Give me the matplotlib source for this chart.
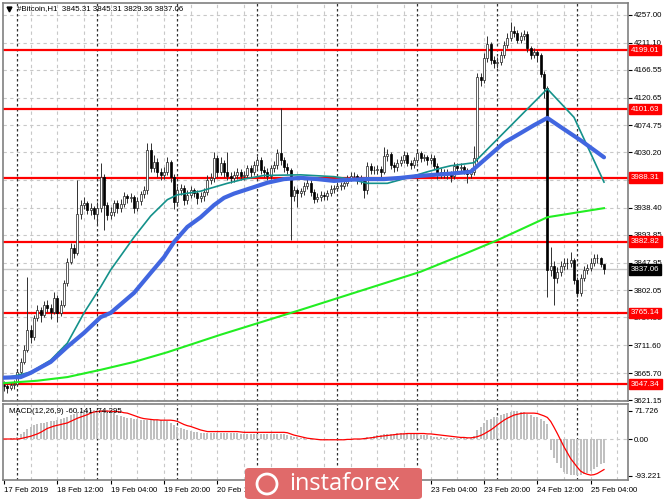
import numpy as np
import matplotlib
matplotlib.use("Agg")
import matplotlib.pyplot as plt
from matplotlib.patches import FancyBboxPatch, Ellipse
import matplotlib.transforms as mtrans

plt.rcParams['font.family'] = ['Liberation Sans', 'DejaVu Sans']

# ---- data ----
first_open = 3646.0
closes = [3644, 3641, 3646, 3647, 3667, 3684, 3704, 3737, 3725, 3757,
          3770, 3762, 3778, 3773, 3767, 3790, 3765, 3778, 3814, 3849,
          3872, 3864, 3928, 3943, 3946, 3935, 3938, 3928, 3938, 3989,
          3943, 3927, 3932, 3946, 3938, 3945, 3958, 3954, 3956, 3938,
          3950, 3961, 3968, 4034, 4004, 4014, 3998, 3993, 3998, 4014,
          3989, 3948, 3968, 3971, 3951, 3960, 3968, 3963, 3954, 3958,
          3965, 3985, 3988, 4021, 3998, 4013, 3998, 3991, 3988, 3993,
          3998, 3991, 3993, 4004, 3998, 4009, 4017, 4001, 3998, 3991,
          4004, 4009, 4029, 4017, 4006, 4001, 3958, 3968, 3963, 3966,
          3975, 3980, 3965, 3953, 3956, 3960, 3958, 3963, 3970, 3971,
          3975, 3975, 3980, 3988, 3991, 3991, 3985, 3985, 3968, 4008,
          4001, 4001, 4002, 3998, 4024, 4027, 4009, 4006, 4013, 4017,
          4026, 4013, 4009, 4017, 4029, 4021, 4022, 4017, 4021, 4008,
          3993, 3998, 3996, 3995, 3991, 4008, 4004, 4006, 4001, 3995,
          3998, 4021, 4155, 4150, 4186, 4209, 4183, 4178, 4180, 4191,
          4207, 4219, 4231, 4227, 4216, 4222, 4226, 4202, 4191, 4196,
          4191, 4160, 4136, 3836, 3842, 3823, 3832, 3843, 3848, 3847,
          3852, 3819, 3798, 3823, 3836, 3839, 3848, 3855, 3855, 3845.31,
          3837.06]
highs = [3652, 3648, 3651, 3654, 3672, 3690, 3712, 3824, 3745, 3762,
         3778, 3775, 3785, 3786, 3780, 3800, 3794, 3786, 3820, 3855,
         3880, 3878, 3985, 3952, 3956, 3950, 3946, 3942, 3948, 4012,
         3995, 3948, 3940, 3952, 3951, 3953, 3964, 3962, 3963, 3960,
         3957, 3966, 3975, 4045, 4046, 4025, 4020, 4005, 4006, 4022,
         4018, 3994, 3975, 3978, 3976, 3968, 3975, 3972, 3968, 3965,
         3972, 3992, 3996, 4030, 4025, 4022, 4018, 4030, 3998, 4000,
         4005, 4003, 4000, 4010, 4010, 4016, 4024, 4022, 4008, 4004,
         4010, 4016, 4036, 4103, 4022, 4012, 4005, 3974, 3972, 3972,
         3981, 3987, 3984, 3970, 3963, 3966, 3965, 3968, 3976, 3977,
         3981, 3982, 3986, 3993, 3997, 3998, 3995, 3992, 3990, 4014,
         4013, 4008, 4009, 4007, 4039, 4035, 4030, 4014, 4019, 4024,
         4032, 4030, 4017, 4023, 4036, 4033, 4028, 4026, 4027, 4025,
         4012, 4004, 4003, 4002, 4000, 4014, 4012, 4012, 4010, 4005,
         4005, 4040, 4162, 4162, 4195, 4222, 4212, 4190, 4188, 4198,
         4214, 4228, 4246, 4238, 4232, 4229, 4233, 4230, 4206, 4203,
         4200, 4195, 4165, 4140, 3874, 3850, 3840, 3850, 3855, 3856,
         3866, 3856, 3824, 3830, 3842, 3846, 3855, 3862, 3863, 3858,
         3845.31]
lows = [3636, 3633, 3637, 3640, 3644, 3662, 3680, 3700, 3716, 3720,
        3752, 3750, 3758, 3766, 3755, 3763, 3750, 3760, 3774, 3810,
        3845, 3856, 3860, 3920, 3936, 3928, 3926, 3920, 3910, 3932,
        3902, 3918, 3920, 3925, 3930, 3932, 3940, 3946, 3948, 3930,
        3933, 3944, 3955, 3962, 3998, 3998, 3990, 3985, 3986, 3992,
        3982, 3936, 3942, 3960, 3944, 3945, 3955, 3956, 3945, 3948,
        3950, 3960, 3978, 3982, 3990, 3992, 3990, 3985, 3980, 3982,
        3986, 3984, 3985, 3988, 3990, 3992, 4002, 3995, 3990, 3984,
        3986, 3998, 4002, 4010, 3998, 3994, 3885, 3950, 3940, 3956,
        3960, 3970, 3958, 3946, 3948, 3950, 3951, 3952, 3958, 3963,
        3966, 3968, 3970, 3975, 3983, 3984, 3978, 3978, 3955, 3962,
        3995, 3994, 3995, 3990, 3994, 4016, 4002, 3998, 4000, 4008,
        4012, 4007, 4002, 4004, 4012, 4015, 4016, 4010, 4011, 4002,
        3986, 3987, 3988, 3986, 3982, 3986, 3998, 3998, 3994, 3980,
        3988, 3993, 4015, 4140, 4145, 4180, 4176, 4170, 4170, 4175,
        4186, 4202, 4214, 4220, 4210, 4210, 4216, 4196, 4184, 4186,
        4180, 4154, 4120, 3791, 3826, 3778, 3815, 3826, 3836, 3838,
        3840, 3812, 3791, 3793, 3818, 3830, 3834, 3843, 3848, 3840,
        3829.36]
opens = [first_open] + closes[:-1]

# moving averages, sampled at bar indices
ma_blue_bars = [0, 5, 8, 14, 19, 24, 29, 32, 39, 44, 48, 51, 55, 59, 63, 66, 69, 74,
                79, 84, 89, 94, 99, 104, 109, 114, 119, 124, 129, 134, 140, 145, 150,
                155, 159, 163, 167, 173, 180]
ma_blue = [3658, 3659, 3666, 3684, 3709, 3732, 3758, 3765, 3798, 3831, 3857, 3882,
           3907, 3923, 3943, 3955, 3962, 3971, 3980, 3986, 3988, 3986, 3983, 3985,
           3986, 3986, 3988, 3991, 3993, 3995, 3998, 4022, 4046, 4062, 4075, 4087,
           4072, 4050, 4022]
ma_teal_bars = [0, 8, 14, 19, 24, 29, 32, 39, 44, 49, 52, 59, 62, 67, 72, 78, 89, 99,
                104, 109, 115, 121, 127, 131, 134, 141, 163, 171, 180]
ma_teal = [3657, 3667, 3687, 3715, 3765, 3808, 3836, 3890, 3925, 3952, 3960, 3966,
           3971, 3979, 3986, 3992, 3993, 3990, 3986, 3979, 3979, 3988, 3998, 4004,
           4008, 4013, 4135, 4088, 3981]
ma_green_bars = [0, 10, 19, 29, 39, 49, 65, 89, 109, 125, 138, 148, 163, 180]
ma_green = [3649, 3653, 3659, 3671, 3684, 3700, 3729, 3770, 3805, 3833, 3862, 3885,
            3923, 3938]

levels = [4199.01, 4101.63, 3988.31, 3882.82, 3765.14, 3647.34]
last_price = 3837.06
price_ticks = [4257.00, 4211.10, 4166.55, 4120.65, 4074.75, 4030.20, 3984.30,
               3938.40, 3893.85, 3847.95, 3802.05, 3757.50, 3711.60, 3665.70, 3621.15]

macd_hist = [0, 1, 2, 3, 6, 12, 18, 25, 30, 35,
             38, 40, 42, 44, 45, 47, 49, 52, 54, 57,
             61, 64, 68, 71, 73, 74, 74, 74, 74, 74,
             74, 73, 71, 66, 61, 58, 56, 54, 53, 52,
             50, 49, 48, 48, 48, 48, 48, 48, 47, 46,
             42, 35, 31, 28, 26, 23, 20, 18, 17, 16,
             16, 16, 15, 15, 15, 15, 15, 15, 15, 15,
             15, 14, 14, 14, 14, 14, 14, 13, 13, 13,
             13, 13, 13, 13, 12, 10, 7, 5, 4, 3,
             2, 1, 0, -1, -2, -2, -2, -2, -2, -2,
             -2, -2, -1, -1, -1, 0, -1, 1, 2, 4,
             6, 8, 9, 10, 12, 13, 14, 14, 15, 15,
             15, 15, 14, 13, 12, 11, 10, 9, 8, 6,
             5, 4, 3, 2, 2, 2, 2, 2, 2, 2,
             3, 8, 22, 31, 40, 48, 52, 55, 57, 60,
             64, 67, 70, 71, 71, 70, 68, 65, 61, 57,
             55, 50, 45, 38, -28, -48, -62, -74, -83, -89,
             -92, -93, -93, -92, -90, -87, -82, -77, -71, -65,
             -60]
macd_signal = [0, 0, 0, 0, 0, 1, 3, 5, 7, 10,
               13, 17, 22, 27, 30, 33, 35, 37, 39, 41,
               45, 49, 53, 56, 59, 62, 66, 69, 70, 71,
               71, 71, 71, 70, 70, 69, 67, 66, 63, 60,
               57, 54, 52, 51, 50, 49, 49, 48, 48, 48,
               48, 47, 45, 41, 37, 34, 32, 29, 26, 23,
               21, 19, 19, 19, 19, 19, 19, 19, 19, 19,
               19, 18, 17, 17, 17, 17, 17, 17, 17, 17,
               17, 17, 17, 17, 17, 16, 13, 10, 8, 6,
               4, 2, 1, 0, -1, -2, -2, -2, -2, -2,
               -2, -2, -2, -1, -1, 0, 0, 0, 1, 2,
               3, 4, 6, 7, 8, 9, 10, 11, 12, 13,
               13, 14, 14, 14, 14, 14, 14, 13, 13, 12,
               11, 10, 9, 8, 7, 6, 5, 4, 4, 3,
               3, 4, 6, 9, 13, 18, 23, 29, 36, 42,
               48, 53, 57, 61, 63, 65, 66, 66, 66, 66,
               65, 62, 59, 55, 45, 30, 14, -3, -20, -35,
               -50, -61, -72, -82, -87, -90, -92, -91, -88, -83,
               -78]
macd_ticks = [71.726, 0.0, -93.221]
macd_tick_labels = ['71.726', '0.00', '-93.221']

# labels hidden behind the watermark in the original are left empty
date_bars = [0, 16, 32, 48, 64, 80, 96, 112, 128, 144, 160, 176]
date_labels = ['17 Feb 2019', '18 Feb 12:00', '19 Feb 04:00', '19 Feb 20:00',
               '20 Feb 12:00', '', '', '',
               '23 Feb 04:00', '23 Feb 20:00', '24 Feb 12:00', '25 Feb 04:00']
day_bars = [4, 28, 52, 76, 100, 124, 148, 172]

FS = 5.7
W, H = 665, 499

fig = plt.figure(figsize=(W / 100, H / 100), dpi=100)
fig.patch.set_facecolor('white')
ax = fig.add_axes([3 / W, (H - 401) / H, 625 / W, 398 / H])
ax2 = fig.add_axes([3 / W, (H - 480) / H, 625 / W, 76 / H])

xlim = (-0.3, 187.2)
for a in (ax, ax2):
    a.set_xlim(*xlim)
    for s in a.spines.values():
        s.set_color('#808080')
        s.set_linewidth(1.2)
    # grid every 8 bars, dotted day separators
    for b in range(8, 188, 8):
        a.axvline(b, color='#c8c8c8', lw=0.8, ls=(0, (3, 3)), zorder=0)
    for b in day_bars:
        a.axvline(b, color='#303030', lw=0.9, ls=(0, (2, 2)), zorder=0.5)

# ---- main price panel ----
ax.set_ylim(3619.5, 4276.8)
for p in price_ticks:
    ax.axhline(p, color='#c8c8c8', lw=0.8, ls=(0, (3, 3)), zorder=0)

ax.axhline(last_price, color='#c8c8c8', lw=1.0, zorder=0.8)
for lv in levels:
    ax.axhline(lv, color='#ff0000', lw=1.6, zorder=1)

bars = np.arange(len(closes))
o = np.array(opens, dtype=float)
c = np.array(closes, dtype=float)
ax.vlines(bars, lows, highs, color='#303030', lw=0.7, zorder=2)
bull = c >= o
body_lo = np.minimum(o, c)
body_h = np.maximum(np.abs(c - o), 0.8)
ax.bar(bars[bull], body_h[bull], bottom=body_lo[bull], width=0.62,
       facecolor='white', edgecolor='#202020', linewidth=0.5, zorder=2.2)
ax.bar(bars[~bull], body_h[~bull], bottom=body_lo[~bull], width=0.62,
       facecolor='black', edgecolor='black', linewidth=0.5, zorder=2.2)

ax.plot(ma_green_bars, ma_green, color='#22ee22', lw=1.5, zorder=3)
ax.plot(ma_teal_bars, ma_teal, color='#14918a', lw=1.2, zorder=3)
ax.plot(ma_blue_bars, ma_blue, color='#4166e0', lw=3.0, zorder=3.1,
        solid_capstyle='round')

ax.yaxis.tick_right()
ax.set_yticks(price_ticks)
ax.set_yticklabels(['%.2f' % p for p in price_ticks])
ax.tick_params(axis='y', labelsize=FS, length=3, width=0.8, pad=1.5, colors='black')
ax.set_xticks([])

trans = mtrans.blended_transform_factory(ax.transAxes, ax.transData)
for lv in levels:
    ax.text(1.005, lv, '%.2f' % lv, transform=trans, fontsize=FS, color='white',
            ha='left', va='center', clip_on=False, zorder=5,
            bbox=dict(boxstyle='square,pad=0.22', facecolor='#ff0000', edgecolor='#ff0000'))
ax.text(1.005, last_price, '%.2f' % last_price, transform=trans, fontsize=FS,
        color='white', ha='left', va='center', clip_on=False, zorder=5,
        bbox=dict(boxstyle='square,pad=0.22', facecolor='black', edgecolor='black'))

ax.plot([6 / 625], [1 - 6 / 398], marker='v', color='black', ms=3.5,
        transform=ax.transAxes, clip_on=False)
ax.text(14 / 625, 1 - 6 / 398, '#Bitcoin,H1  3845.31 3845.31 3829.36 3837.06',
        transform=ax.transAxes, fontsize=FS, ha='left', va='center')

# ---- MACD panel ----
ax2.set_ylim(-104.6, 89.3)
ax2.axhline(0, color='#c8c8c8', lw=0.8, ls=(0, (3, 3)), zorder=0)
ax2.bar(bars, macd_hist, width=0.55, color='#c0c0c0', zorder=2)
ax2.plot(bars, macd_signal, color='#ff0000', lw=0.9, zorder=3)
ax2.yaxis.tick_right()
ax2.set_yticks(macd_ticks)
ax2.set_yticklabels(macd_tick_labels)
ax2.tick_params(axis='y', labelsize=FS, length=3, width=0.8, pad=1.5)
ax2.set_xticks(date_bars)
ax2.set_xticklabels(date_labels)
ax2.tick_params(axis='x', labelsize=FS, length=3, width=0.8, pad=2)
for lbl in ax2.get_xticklabels():
    lbl.set_horizontalalignment('left')
ax2.text(6 / 625, 0.9, 'MACD(12,26,9) -60.141 -74.295', transform=ax2.transAxes,
         fontsize=FS, ha='left', va='center')

# ---- watermark ----
fig.patches.append(FancyBboxPatch((245 / W, 0), 177 / W, 31 / H,
                                  boxstyle='round,pad=0,rounding_size=0.006',
                                  transform=fig.transFigure, facecolor='#e06a6a',
                                  edgecolor='none', zorder=10))
fig.patches.append(Ellipse((267 / W, 15 / H), 20 / W, 20 / H, transform=fig.transFigure,
                           facecolor='none', edgecolor='white', lw=2, zorder=11))
fig.text(289 / W, 9 / H, 'instaforex', color='white', fontsize=17,
         family=['Open Sans', 'DejaVu Sans'], ha='left', va='baseline', zorder=12)

fig.savefig('out.png', dpi=100)
